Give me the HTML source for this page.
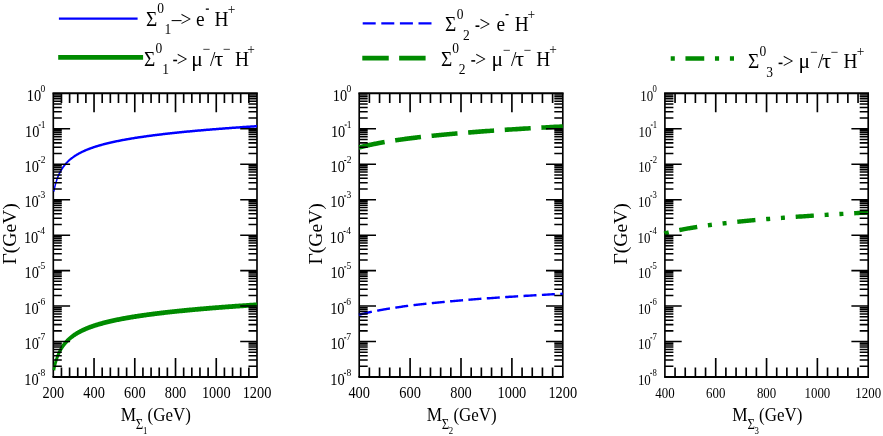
<!DOCTYPE html>
<html><head><meta charset="utf-8"><title>plot</title>
<style>html,body{margin:0;padding:0;background:#fff}svg{display:block;will-change:transform}</style></head>
<body>
<svg width="883" height="436" viewBox="0 0 883 436" font-family="Liberation Serif, serif" fill="#000">
<rect width="883" height="436" fill="#fff"/>
<path d="M52.5,93.3H257.8M52.5,377.0H257.8" stroke="#000" stroke-width="1.9" fill="none"/>
<path d="M53.3,93.3V377.0M257.0,93.3V377.0" stroke="#000" stroke-width="1.65" fill="none"/>
<clipPath id="c0"><rect x="51.699999999999996" y="93.3" width="206.1" height="283.7"/></clipPath>
<g clip-path="url(#c0)"><g transform="scale(0.55,1)"><path d="M98.01,191.35 L98.01,191.35 L98.02,191.33 L98.03,191.29 L98.04,191.24 L98.06,191.18 L98.09,191.11 L98.12,191.02 L98.15,190.92 L98.19,190.80 L98.24,190.68 L98.29,190.54 L98.34,190.39 L98.40,190.22 L98.46,190.05 L98.53,189.86 L98.60,189.66 L98.68,189.46 L98.76,189.24 L98.84,189.01 L98.93,188.77 L99.03,188.53 L99.13,188.27 L99.23,188.01 L99.34,187.74 L99.46,187.46 L99.57,187.17 L99.70,186.88 L99.82,186.58 L99.96,186.27 L100.09,185.96 L100.24,185.64 L100.38,185.32 L100.53,185.00 L100.69,184.66 L100.85,184.33 L101.01,183.99 L101.18,183.65 L101.36,183.30 L101.53,182.96 L101.72,182.61 L101.91,182.25 L102.10,181.90 L102.29,181.54 L102.50,181.19 L102.70,180.83 L102.91,180.47 L103.13,180.11 L103.35,179.74 L103.58,179.38 L103.80,179.02 L104.04,178.66 L104.28,178.30 L104.52,177.94 L104.77,177.58 L105.02,177.21 L105.28,176.86 L105.54,176.50 L105.81,176.14 L106.08,175.78 L106.36,175.43 L106.64,175.07 L106.92,174.72 L107.21,174.37 L107.51,174.02 L107.81,173.67 L108.11,173.32 L108.42,172.98 L108.73,172.63 L109.05,172.29 L109.37,171.95 L109.70,171.62 L110.03,171.28 L110.37,170.95 L110.71,170.62 L111.05,170.29 L111.40,169.96 L111.76,169.64 L112.12,169.31 L112.48,168.99 L112.85,168.68 L113.22,168.36 L113.60,168.05 L113.99,167.74 L114.37,167.43 L114.76,167.12 L115.16,166.82 L115.56,166.51 L115.97,166.21 L116.38,165.92 L116.79,165.62 L117.21,165.33 L117.64,165.04 L118.07,164.75 L118.50,164.46 L118.94,164.18 L119.38,163.90 L119.83,163.62 L120.28,163.34 L120.74,163.07 L121.20,162.80 L121.67,162.53 L122.14,162.26 L122.61,161.99 L123.09,161.73 L123.58,161.47 L124.07,161.21 L124.56,160.95 L125.06,160.70 L125.56,160.44 L126.07,160.19 L126.58,159.94 L127.10,159.70 L127.62,159.45 L128.15,159.21 L128.68,158.97 L129.22,158.73 L129.76,158.49 L130.30,158.26 L130.85,158.03 L131.41,157.79 L131.97,157.57 L132.53,157.34 L133.10,157.11 L133.67,156.89 L134.25,156.67 L134.83,156.45 L135.42,156.23 L136.01,156.01 L136.60,155.80 L137.21,155.58 L137.81,155.37 L138.42,155.16 L139.04,154.96 L139.65,154.75 L140.28,154.54 L140.91,154.34 L141.54,154.14 L142.18,153.94 L142.82,153.74 L143.47,153.54 L144.12,153.35 L144.78,153.16 L145.44,152.96 L146.10,152.77 L146.77,152.58 L147.45,152.39 L148.13,152.21 L148.81,152.02 L149.50,151.84 L150.19,151.66 L150.89,151.47 L151.60,151.30 L152.30,151.12 L153.02,150.94 L153.73,150.76 L154.45,150.59 L155.18,150.42 L155.91,150.24 L156.65,150.07 L157.39,149.90 L158.13,149.73 L158.88,149.57 L159.63,149.40 L160.39,149.24 L161.15,149.07 L161.92,148.91 L162.69,148.75 L163.47,148.59 L164.25,148.43 L165.04,148.27 L165.83,148.11 L166.63,147.95 L167.43,147.80 L168.23,147.65 L169.04,147.49 L169.85,147.34 L170.67,147.19 L171.50,147.04 L172.33,146.89 L173.16,146.74 L174.00,146.59 L174.84,146.45 L175.68,146.30 L176.54,146.16 L177.39,146.01 L178.25,145.87 L179.12,145.73 L179.99,145.59 L180.86,145.45 L181.74,145.31 L182.62,145.17 L183.51,145.03 L184.41,144.89 L185.30,144.76 L186.21,144.62 L187.11,144.49 L188.02,144.35 L188.94,144.22 L189.86,144.09 L190.79,143.96 L191.72,143.83 L192.65,143.70 L193.59,143.57 L194.53,143.44 L195.48,143.31 L196.44,143.18 L197.39,143.06 L198.36,142.93 L199.32,142.80 L200.30,142.68 L201.27,142.56 L202.25,142.43 L203.24,142.31 L204.23,142.19 L205.22,142.07 L206.22,141.95 L207.23,141.83 L208.24,141.71 L209.25,141.59 L210.27,141.47 L211.29,141.35 L212.32,141.24 L213.35,141.12 L214.39,141.00 L215.43,140.89 L216.48,140.77 L217.53,140.66 L218.58,140.55 L219.64,140.43 L220.71,140.32 L221.78,140.21 L222.85,140.10 L223.93,139.99 L225.01,139.88 L226.10,139.77 L227.19,139.66 L228.29,139.55 L229.39,139.44 L230.50,139.33 L231.61,139.22 L232.72,139.12 L233.85,139.01 L234.97,138.90 L236.10,138.80 L237.23,138.69 L238.37,138.59 L239.52,138.49 L240.66,138.38 L241.82,138.28 L242.97,138.18 L244.14,138.07 L245.30,137.97 L246.47,137.87 L247.65,137.77 L248.83,137.67 L250.02,137.57 L251.21,137.47 L252.40,137.37 L253.60,137.27 L254.80,137.17 L256.01,137.07 L257.23,136.97 L258.44,136.88 L259.67,136.78 L260.89,136.68 L262.12,136.59 L263.36,136.49 L264.60,136.39 L265.85,136.30 L267.10,136.20 L268.35,136.11 L269.61,136.02 L270.88,135.92 L272.14,135.83 L273.42,135.74 L274.70,135.64 L275.98,135.55 L277.27,135.46 L278.56,135.37 L279.85,135.28 L281.16,135.18 L282.46,135.09 L283.77,135.00 L285.09,134.91 L286.41,134.82 L287.73,134.73 L289.06,134.64 L290.39,134.56 L291.73,134.47 L293.08,134.38 L294.42,134.29 L295.78,134.20 L297.13,134.12 L298.49,134.03 L299.86,133.94 L301.23,133.86 L302.61,133.77 L303.99,133.68 L305.37,133.60 L306.76,133.51 L308.16,133.43 L309.55,133.34 L310.96,133.26 L312.36,133.17 L313.78,133.09 L315.19,133.01 L316.62,132.92 L318.04,132.84 L319.47,132.76 L320.91,132.68 L322.35,132.59 L323.80,132.51 L325.25,132.43 L326.70,132.35 L328.16,132.27 L329.62,132.19 L331.09,132.10 L332.56,132.02 L334.04,131.94 L335.52,131.86 L337.01,131.78 L338.50,131.70 L340.00,131.62 L341.50,131.55 L343.00,131.47 L344.51,131.39 L346.03,131.31 L347.55,131.23 L349.07,131.15 L350.60,131.08 L352.13,131.00 L353.67,130.92 L355.21,130.84 L356.76,130.77 L358.31,130.69 L359.87,130.61 L361.43,130.54 L362.99,130.46 L364.57,130.39 L366.14,130.31 L367.72,130.23 L369.30,130.16 L370.89,130.08 L372.49,130.01 L374.08,129.93 L375.69,129.86 L377.29,129.79 L378.91,129.71 L380.52,129.64 L382.14,129.57 L383.77,129.49 L385.40,129.42 L387.04,129.35 L388.68,129.27 L390.32,129.20 L391.97,129.13 L393.62,129.06 L395.28,128.98 L396.95,128.91 L398.61,128.84 L400.29,128.77 L401.96,128.70 L403.64,128.63 L405.33,128.56 L407.02,128.48 L408.72,128.41 L410.42,128.34 L412.12,128.27 L413.83,128.20 L415.55,128.13 L417.26,128.06 L418.99,127.99 L420.72,127.93 L422.45,127.86 L424.19,127.79 L425.93,127.72 L427.67,127.65 L429.43,127.58 L431.18,127.51 L432.94,127.44 L434.71,127.38 L436.48,127.31 L438.25,127.24 L440.03,127.17 L441.81,127.11 L443.60,127.04 L445.40,126.97 L447.19,126.91 L449.00,126.84 L450.80,126.77 L452.61,126.71 L454.43,126.64 L456.25,126.57 L458.08,126.51 L459.91,126.44 L461.74,126.38 L463.58,126.31 L465.42,126.24 L467.27,126.18" stroke="#0000ff" stroke-width="2.5" fill="none"/><path d="M98.01,369.98 L98.01,369.97 L98.02,369.95 L98.03,369.92 L98.04,369.87 L98.06,369.81 L98.09,369.73 L98.12,369.64 L98.15,369.54 L98.19,369.43 L98.24,369.30 L98.29,369.16 L98.34,369.01 L98.40,368.85 L98.46,368.67 L98.53,368.49 L98.60,368.29 L98.68,368.08 L98.76,367.86 L98.84,367.64 L98.93,367.40 L99.03,367.15 L99.13,366.90 L99.23,366.63 L99.34,366.36 L99.46,366.08 L99.57,365.80 L99.70,365.50 L99.82,365.20 L99.96,364.90 L100.09,364.59 L100.24,364.27 L100.38,363.95 L100.53,363.62 L100.69,363.29 L100.85,362.95 L101.01,362.62 L101.18,362.27 L101.36,361.93 L101.53,361.58 L101.72,361.23 L101.91,360.88 L102.10,360.52 L102.29,360.17 L102.50,359.81 L102.70,359.45 L102.91,359.09 L103.13,358.73 L103.35,358.37 L103.58,358.01 L103.80,357.65 L104.04,357.28 L104.28,356.92 L104.52,356.56 L104.77,356.20 L105.02,355.84 L105.28,355.48 L105.54,355.12 L105.81,354.76 L106.08,354.41 L106.36,354.05 L106.64,353.70 L106.92,353.34 L107.21,352.99 L107.51,352.64 L107.81,352.29 L108.11,351.95 L108.42,351.60 L108.73,351.26 L109.05,350.92 L109.37,350.58 L109.70,350.24 L110.03,349.91 L110.37,349.57 L110.71,349.24 L111.05,348.91 L111.40,348.59 L111.76,348.26 L112.12,347.94 L112.48,347.62 L112.85,347.30 L113.22,346.98 L113.60,346.67 L113.99,346.36 L114.37,346.05 L114.76,345.74 L115.16,345.44 L115.56,345.14 L115.97,344.84 L116.38,344.54 L116.79,344.25 L117.21,343.95 L117.64,343.66 L118.07,343.37 L118.50,343.09 L118.94,342.80 L119.38,342.52 L119.83,342.24 L120.28,341.97 L120.74,341.69 L121.20,341.42 L121.67,341.15 L122.14,340.88 L122.61,340.62 L123.09,340.35 L123.58,340.09 L124.07,339.83 L124.56,339.58 L125.06,339.32 L125.56,339.07 L126.07,338.82 L126.58,338.57 L127.10,338.32 L127.62,338.08 L128.15,337.83 L128.68,337.59 L129.22,337.35 L129.76,337.12 L130.30,336.88 L130.85,336.65 L131.41,336.42 L131.97,336.19 L132.53,335.96 L133.10,335.74 L133.67,335.51 L134.25,335.29 L134.83,335.07 L135.42,334.85 L136.01,334.64 L136.60,334.42 L137.21,334.21 L137.81,334.00 L138.42,333.79 L139.04,333.58 L139.65,333.37 L140.28,333.17 L140.91,332.97 L141.54,332.76 L142.18,332.56 L142.82,332.37 L143.47,332.17 L144.12,331.97 L144.78,331.78 L145.44,331.59 L146.10,331.40 L146.77,331.21 L147.45,331.02 L148.13,330.83 L148.81,330.65 L149.50,330.46 L150.19,330.28 L150.89,330.10 L151.60,329.92 L152.30,329.74 L153.02,329.56 L153.73,329.39 L154.45,329.21 L155.18,329.04 L155.91,328.87 L156.65,328.70 L157.39,328.53 L158.13,328.36 L158.88,328.19 L159.63,328.02 L160.39,327.86 L161.15,327.70 L161.92,327.53 L162.69,327.37 L163.47,327.21 L164.25,327.05 L165.04,326.89 L165.83,326.74 L166.63,326.58 L167.43,326.42 L168.23,326.27 L169.04,326.12 L169.85,325.96 L170.67,325.81 L171.50,325.66 L172.33,325.51 L173.16,325.37 L174.00,325.22 L174.84,325.07 L175.68,324.93 L176.54,324.78 L177.39,324.64 L178.25,324.49 L179.12,324.35 L179.99,324.21 L180.86,324.07 L181.74,323.93 L182.62,323.79 L183.51,323.65 L184.41,323.52 L185.30,323.38 L186.21,323.25 L187.11,323.11 L188.02,322.98 L188.94,322.84 L189.86,322.71 L190.79,322.58 L191.72,322.45 L192.65,322.32 L193.59,322.19 L194.53,322.06 L195.48,321.93 L196.44,321.81 L197.39,321.68 L198.36,321.55 L199.32,321.43 L200.30,321.30 L201.27,321.18 L202.25,321.06 L203.24,320.94 L204.23,320.81 L205.22,320.69 L206.22,320.57 L207.23,320.45 L208.24,320.33 L209.25,320.21 L210.27,320.10 L211.29,319.98 L212.32,319.86 L213.35,319.74 L214.39,319.63 L215.43,319.51 L216.48,319.40 L217.53,319.28 L218.58,319.17 L219.64,319.06 L220.71,318.95 L221.78,318.83 L222.85,318.72 L223.93,318.61 L225.01,318.50 L226.10,318.39 L227.19,318.28 L228.29,318.17 L229.39,318.06 L230.50,317.96 L231.61,317.85 L232.72,317.74 L233.85,317.64 L234.97,317.53 L236.10,317.42 L237.23,317.32 L238.37,317.21 L239.52,317.11 L240.66,317.01 L241.82,316.90 L242.97,316.80 L244.14,316.70 L245.30,316.60 L246.47,316.49 L247.65,316.39 L248.83,316.29 L250.02,316.19 L251.21,316.09 L252.40,315.99 L253.60,315.89 L254.80,315.79 L256.01,315.70 L257.23,315.60 L258.44,315.50 L259.67,315.40 L260.89,315.31 L262.12,315.21 L263.36,315.12 L264.60,315.02 L265.85,314.92 L267.10,314.83 L268.35,314.73 L269.61,314.64 L270.88,314.55 L272.14,314.45 L273.42,314.36 L274.70,314.27 L275.98,314.18 L277.27,314.08 L278.56,313.99 L279.85,313.90 L281.16,313.81 L282.46,313.72 L283.77,313.63 L285.09,313.54 L286.41,313.45 L287.73,313.36 L289.06,313.27 L290.39,313.18 L291.73,313.09 L293.08,313.00 L294.42,312.92 L295.78,312.83 L297.13,312.74 L298.49,312.65 L299.86,312.57 L301.23,312.48 L302.61,312.39 L303.99,312.31 L305.37,312.22 L306.76,312.14 L308.16,312.05 L309.55,311.97 L310.96,311.88 L312.36,311.80 L313.78,311.72 L315.19,311.63 L316.62,311.55 L318.04,311.47 L319.47,311.38 L320.91,311.30 L322.35,311.22 L323.80,311.14 L325.25,311.05 L326.70,310.97 L328.16,310.89 L329.62,310.81 L331.09,310.73 L332.56,310.65 L334.04,310.57 L335.52,310.49 L337.01,310.41 L338.50,310.33 L340.00,310.25 L341.50,310.17 L343.00,310.09 L344.51,310.01 L346.03,309.93 L347.55,309.86 L349.07,309.78 L350.60,309.70 L352.13,309.62 L353.67,309.54 L355.21,309.47 L356.76,309.39 L358.31,309.31 L359.87,309.24 L361.43,309.16 L362.99,309.09 L364.57,309.01 L366.14,308.93 L367.72,308.86 L369.30,308.78 L370.89,308.71 L372.49,308.63 L374.08,308.56 L375.69,308.49 L377.29,308.41 L378.91,308.34 L380.52,308.26 L382.14,308.19 L383.77,308.12 L385.40,308.04 L387.04,307.97 L388.68,307.90 L390.32,307.82 L391.97,307.75 L393.62,307.68 L395.28,307.61 L396.95,307.54 L398.61,307.46 L400.29,307.39 L401.96,307.32 L403.64,307.25 L405.33,307.18 L407.02,307.11 L408.72,307.04 L410.42,306.97 L412.12,306.90 L413.83,306.83 L415.55,306.76 L417.26,306.69 L418.99,306.62 L420.72,306.55 L422.45,306.48 L424.19,306.41 L425.93,306.34 L427.67,306.27 L429.43,306.21 L431.18,306.14 L432.94,306.07 L434.71,306.00 L436.48,305.93 L438.25,305.87 L440.03,305.80 L441.81,305.73 L443.60,305.66 L445.40,305.60 L447.19,305.53 L449.00,305.46 L450.80,305.40 L452.61,305.33 L454.43,305.26 L456.25,305.20 L458.08,305.13 L459.91,305.07 L461.74,305.00 L463.58,304.93 L465.42,304.87 L467.27,304.80" stroke="#008b00" stroke-width="4.8" fill="none"/></g></g>
<path d="M53.3,118.09h8.5M257.0,118.09h-8.5M53.3,111.84h8.5M257.0,111.84h-8.5M53.3,107.41h8.5M257.0,107.41h-8.5M53.3,103.98h8.5M257.0,103.98h-8.5M53.3,101.17h8.5M257.0,101.17h-8.5M53.3,98.79h8.5M257.0,98.79h-8.5M53.3,96.74h8.5M257.0,96.74h-8.5M53.3,94.92h8.5M257.0,94.92h-8.5M53.3,128.76h16.8M257.0,128.76h-16.8M53.3,153.55h8.5M257.0,153.55h-8.5M53.3,147.31h8.5M257.0,147.31h-8.5M53.3,142.87h8.5M257.0,142.87h-8.5M53.3,139.44h8.5M257.0,139.44h-8.5M53.3,136.63h8.5M257.0,136.63h-8.5M53.3,134.26h8.5M257.0,134.26h-8.5M53.3,132.20h8.5M257.0,132.20h-8.5M53.3,130.39h8.5M257.0,130.39h-8.5M53.3,164.22h16.8M257.0,164.22h-16.8M53.3,189.01h8.5M257.0,189.01h-8.5M53.3,182.77h8.5M257.0,182.77h-8.5M53.3,178.34h8.5M257.0,178.34h-8.5M53.3,174.90h8.5M257.0,174.90h-8.5M53.3,172.09h8.5M257.0,172.09h-8.5M53.3,169.72h8.5M257.0,169.72h-8.5M53.3,167.66h8.5M257.0,167.66h-8.5M53.3,165.85h8.5M257.0,165.85h-8.5M53.3,199.69h16.8M257.0,199.69h-16.8M53.3,224.47h8.5M257.0,224.47h-8.5M53.3,218.23h8.5M257.0,218.23h-8.5M53.3,213.80h8.5M257.0,213.80h-8.5M53.3,210.36h8.5M257.0,210.36h-8.5M53.3,207.55h8.5M257.0,207.55h-8.5M53.3,205.18h8.5M257.0,205.18h-8.5M53.3,203.12h8.5M257.0,203.12h-8.5M53.3,201.31h8.5M257.0,201.31h-8.5M53.3,235.15h16.8M257.0,235.15h-16.8M53.3,259.94h8.5M257.0,259.94h-8.5M53.3,253.69h8.5M257.0,253.69h-8.5M53.3,249.26h8.5M257.0,249.26h-8.5M53.3,245.83h8.5M257.0,245.83h-8.5M53.3,243.02h8.5M257.0,243.02h-8.5M53.3,240.64h8.5M257.0,240.64h-8.5M53.3,238.59h8.5M257.0,238.59h-8.5M53.3,236.77h8.5M257.0,236.77h-8.5M53.3,270.61h16.8M257.0,270.61h-16.8M53.3,295.40h8.5M257.0,295.40h-8.5M53.3,289.16h8.5M257.0,289.16h-8.5M53.3,284.72h8.5M257.0,284.72h-8.5M53.3,281.29h8.5M257.0,281.29h-8.5M53.3,278.48h8.5M257.0,278.48h-8.5M53.3,276.11h8.5M257.0,276.11h-8.5M53.3,274.05h8.5M257.0,274.05h-8.5M53.3,272.24h8.5M257.0,272.24h-8.5M53.3,306.07h16.8M257.0,306.07h-16.8M53.3,330.86h8.5M257.0,330.86h-8.5M53.3,324.62h8.5M257.0,324.62h-8.5M53.3,320.19h8.5M257.0,320.19h-8.5M53.3,316.75h8.5M257.0,316.75h-8.5M53.3,313.94h8.5M257.0,313.94h-8.5M53.3,311.57h8.5M257.0,311.57h-8.5M53.3,309.51h8.5M257.0,309.51h-8.5M53.3,307.70h8.5M257.0,307.70h-8.5M53.3,341.54h16.8M257.0,341.54h-16.8M53.3,366.32h8.5M257.0,366.32h-8.5M53.3,360.08h8.5M257.0,360.08h-8.5M53.3,355.65h8.5M257.0,355.65h-8.5M53.3,352.21h8.5M257.0,352.21h-8.5M53.3,349.40h8.5M257.0,349.40h-8.5M53.3,347.03h8.5M257.0,347.03h-8.5M53.3,344.97h8.5M257.0,344.97h-8.5M53.3,343.16h8.5M257.0,343.16h-8.5" stroke="#000" stroke-width="1.55" fill="none"/>
<path d="M61.45,377.0v-9.6M61.45,93.3v9.6M69.60,377.0v-9.6M69.60,93.3v9.6M77.74,377.0v-9.6M77.74,93.3v9.6M85.89,377.0v-9.6M85.89,93.3v9.6M94.04,377.0v-18.9M94.04,93.3v18.9M102.19,377.0v-9.6M102.19,93.3v9.6M110.34,377.0v-9.6M110.34,93.3v9.6M118.48,377.0v-9.6M118.48,93.3v9.6M126.63,377.0v-9.6M126.63,93.3v9.6M134.78,377.0v-18.9M134.78,93.3v18.9M142.93,377.0v-9.6M142.93,93.3v9.6M151.08,377.0v-9.6M151.08,93.3v9.6M159.22,377.0v-9.6M159.22,93.3v9.6M167.37,377.0v-9.6M167.37,93.3v9.6M175.52,377.0v-18.9M175.52,93.3v18.9M183.67,377.0v-9.6M183.67,93.3v9.6M191.82,377.0v-9.6M191.82,93.3v9.6M199.96,377.0v-9.6M199.96,93.3v9.6M208.11,377.0v-9.6M208.11,93.3v9.6M216.26,377.0v-18.9M216.26,93.3v18.9M224.41,377.0v-9.6M224.41,93.3v9.6M232.56,377.0v-9.6M232.56,93.3v9.6M240.70,377.0v-9.6M240.70,93.3v9.6M248.85,377.0v-9.6M248.85,93.3v9.6" stroke="#000" stroke-width="1.65" fill="none"/>
<text transform="translate(40.56,92.10) scale(0.91,1)" font-size="10.5">0</text>
<text transform="translate(26.82,101.10) scale(0.91,1)" font-size="15.8">10</text>
<text transform="translate(40.80,127.56) scale(0.91,1)" font-size="10.5">1</text>
<rect x="38.71" y="124.56" width="2.1" height="1.0"/>
<text transform="translate(25.03,136.56) scale(0.91,1)" font-size="15.8">10</text>
<text transform="translate(40.75,163.03) scale(0.91,1)" font-size="10.5">2</text>
<rect x="38.23" y="160.03" width="2.1" height="1.0"/>
<text transform="translate(24.56,172.03) scale(0.91,1)" font-size="15.8">10</text>
<text transform="translate(40.56,198.49) scale(0.91,1)" font-size="10.5">3</text>
<rect x="38.09" y="195.49" width="2.1" height="1.0"/>
<text transform="translate(24.41,207.49) scale(0.91,1)" font-size="15.8">10</text>
<text transform="translate(40.37,233.95) scale(0.91,1)" font-size="10.5">4</text>
<rect x="37.61" y="230.95" width="2.1" height="1.0"/>
<text transform="translate(23.93,242.95) scale(0.91,1)" font-size="15.8">10</text>
<text transform="translate(40.56,269.41) scale(0.91,1)" font-size="10.5">5</text>
<rect x="38.18" y="266.41" width="2.1" height="1.0"/>
<text transform="translate(24.51,278.41) scale(0.91,1)" font-size="15.8">10</text>
<text transform="translate(40.46,304.88) scale(0.91,1)" font-size="10.5">6</text>
<rect x="37.94" y="301.88" width="2.1" height="1.0"/>
<text transform="translate(24.27,313.88) scale(0.91,1)" font-size="15.8">10</text>
<text transform="translate(40.46,340.34) scale(0.91,1)" font-size="10.5">7</text>
<rect x="38.18" y="337.34" width="2.1" height="1.0"/>
<text transform="translate(24.51,349.34) scale(0.91,1)" font-size="15.8">10</text>
<text transform="translate(40.56,375.80) scale(0.91,1)" font-size="10.5">8</text>
<rect x="37.99" y="372.80" width="2.1" height="1.0"/>
<text transform="translate(24.32,384.80) scale(0.91,1)" font-size="15.8">10</text>
<text transform="translate(53.30,397.5) scale(0.91,1)" text-anchor="middle" font-size="15.8">200</text>
<text transform="translate(94.04,397.5) scale(0.91,1)" text-anchor="middle" font-size="15.8">400</text>
<text transform="translate(134.78,397.5) scale(0.91,1)" text-anchor="middle" font-size="15.8">600</text>
<text transform="translate(175.52,397.5) scale(0.91,1)" text-anchor="middle" font-size="15.8">800</text>
<text transform="translate(216.26,397.5) scale(0.91,1)" text-anchor="middle" font-size="15.8">1000</text>
<text transform="translate(257.00,397.5) scale(0.91,1)" text-anchor="middle" font-size="15.8">1200</text>
<text transform="translate(120.77,421.20) scale(0.88,1)" font-size="19.6">M</text>
<text transform="translate(135.85,428.50) scale(0.88,1)" font-size="14.5">Σ</text>
<text transform="translate(143.05,433.60) scale(0.88,1)" font-size="10">1</text>
<text transform="translate(147.52,421.20) scale(0.865,1)" font-size="19.6">(GeV)</text>
<text transform="translate(15.60,264.6) rotate(-90) scale(1,0.93)" font-size="19.6">Γ(GeV)</text>
<path d="M358.4,93.3H563.5999999999999M358.4,377.0H563.5999999999999" stroke="#000" stroke-width="1.9" fill="none"/>
<path d="M359.2,93.3V377.0M562.8,93.3V377.0" stroke="#000" stroke-width="1.65" fill="none"/>
<clipPath id="c1"><rect x="357.59999999999997" y="93.3" width="205.99999999999997" height="283.7"/></clipPath>
<g clip-path="url(#c1)"><path d="M359.20,147.45 L359.21,147.45 L359.22,147.45 L359.25,147.44 L359.28,147.43 L359.33,147.42 L359.39,147.40 L359.45,147.38 L359.53,147.36 L359.62,147.34 L359.71,147.32 L359.82,147.29 L359.94,147.26 L360.07,147.22 L360.21,147.19 L360.36,147.15 L360.52,147.11 L360.69,147.06 L360.87,147.02 L361.06,146.97 L361.26,146.92 L361.47,146.86 L361.69,146.81 L361.92,146.75 L362.16,146.69 L362.41,146.62 L362.68,146.56 L362.95,146.49 L363.23,146.42 L363.52,146.35 L363.83,146.28 L364.14,146.20 L364.46,146.12 L364.80,146.04 L365.14,145.96 L365.50,145.88 L365.86,145.79 L366.24,145.71 L366.62,145.62 L367.02,145.53 L367.43,145.44 L367.84,145.34 L368.27,145.25 L368.71,145.15 L369.15,145.05 L369.61,144.95 L370.08,144.85 L370.56,144.75 L371.05,144.64 L371.54,144.54 L372.05,144.43 L372.57,144.32 L373.10,144.22 L373.64,144.11 L374.19,143.99 L374.75,143.88 L375.32,143.77 L375.90,143.65 L376.50,143.54 L377.10,143.42 L377.71,143.31 L378.33,143.19 L378.96,143.07 L379.61,142.95 L380.26,142.83 L380.92,142.71 L381.60,142.59 L382.28,142.47 L382.97,142.34 L383.68,142.22 L384.39,142.10 L385.12,141.97 L385.85,141.85 L386.60,141.72 L387.35,141.60 L388.12,141.47 L388.90,141.34 L389.68,141.22 L390.48,141.09 L391.29,140.96 L392.10,140.84 L392.93,140.71 L393.77,140.58 L394.62,140.45 L395.48,140.32 L396.35,140.19 L397.22,140.06 L398.11,139.93 L399.01,139.80 L399.92,139.68 L400.84,139.55 L401.77,139.42 L402.72,139.29 L403.67,139.16 L404.63,139.03 L405.60,138.90 L406.58,138.77 L407.57,138.64 L408.58,138.51 L409.59,138.38 L410.61,138.25 L411.65,138.12 L412.69,137.99 L413.74,137.86 L414.81,137.73 L415.88,137.60 L416.97,137.47 L418.06,137.34 L419.17,137.21 L420.28,137.08 L421.41,136.95 L422.55,136.82 L423.69,136.70 L424.85,136.57 L426.02,136.44 L427.19,136.31 L428.38,136.18 L429.58,136.06 L430.79,135.93 L432.01,135.80 L433.23,135.67 L434.47,135.55 L435.72,135.42 L436.98,135.29 L438.25,135.17 L439.53,135.04 L440.82,134.92 L442.12,134.79 L443.43,134.67 L444.76,134.54 L446.09,134.42 L447.43,134.29 L448.78,134.17 L450.14,134.04 L451.52,133.92 L452.90,133.80 L454.29,133.67 L455.70,133.55 L457.11,133.43 L458.53,133.31 L459.97,133.18 L461.41,133.06 L462.87,132.94 L464.33,132.82 L465.81,132.70 L467.30,132.58 L468.79,132.46 L470.30,132.34 L471.81,132.22 L473.34,132.10 L474.88,131.98 L476.43,131.86 L477.98,131.74 L479.55,131.62 L481.13,131.51 L482.72,131.39 L484.32,131.27 L485.93,131.15 L487.55,131.04 L489.18,130.92 L490.82,130.80 L492.47,130.69 L494.13,130.57 L495.80,130.46 L497.48,130.34 L499.17,130.23 L500.87,130.11 L502.59,130.00 L504.31,129.88 L506.04,129.77 L507.78,129.66 L509.54,129.54 L511.30,129.43 L513.07,129.32 L514.86,129.21 L516.65,129.10 L518.46,128.98 L520.27,128.87 L522.10,128.76 L523.93,128.65 L525.78,128.54 L527.63,128.43 L529.50,128.32 L531.38,128.21 L533.26,128.10 L535.16,127.99 L537.07,127.88 L538.99,127.78 L540.91,127.67 L542.85,127.56 L544.80,127.45 L546.76,127.35 L548.73,127.24 L550.71,127.13 L552.70,127.03 L554.70,126.92 L556.71,126.81 L558.73,126.71 L560.76,126.60 L562.80,126.50" stroke="#008b00" stroke-width="4.6" fill="none" stroke-dasharray="26 10.7"/><path d="M359.20,314.73 L359.21,314.73 L359.22,314.72 L359.25,314.72 L359.28,314.71 L359.33,314.69 L359.39,314.68 L359.45,314.66 L359.53,314.64 L359.62,314.62 L359.71,314.59 L359.82,314.56 L359.94,314.53 L360.07,314.50 L360.21,314.46 L360.36,314.42 L360.52,314.38 L360.69,314.34 L360.87,314.29 L361.06,314.24 L361.26,314.19 L361.47,314.14 L361.69,314.08 L361.92,314.02 L362.16,313.96 L362.41,313.90 L362.68,313.84 L362.95,313.77 L363.23,313.70 L363.52,313.63 L363.83,313.55 L364.14,313.48 L364.46,313.40 L364.80,313.32 L365.14,313.24 L365.50,313.16 L365.86,313.07 L366.24,312.98 L366.62,312.90 L367.02,312.80 L367.43,312.71 L367.84,312.62 L368.27,312.52 L368.71,312.43 L369.15,312.33 L369.61,312.23 L370.08,312.13 L370.56,312.02 L371.05,311.92 L371.54,311.82 L372.05,311.71 L372.57,311.60 L373.10,311.49 L373.64,311.38 L374.19,311.27 L374.75,311.16 L375.32,311.05 L375.90,310.93 L376.50,310.82 L377.10,310.70 L377.71,310.58 L378.33,310.47 L378.96,310.35 L379.61,310.23 L380.26,310.11 L380.92,309.99 L381.60,309.87 L382.28,309.74 L382.97,309.62 L383.68,309.50 L384.39,309.37 L385.12,309.25 L385.85,309.12 L386.60,309.00 L387.35,308.87 L388.12,308.75 L388.90,308.62 L389.68,308.49 L390.48,308.37 L391.29,308.24 L392.10,308.11 L392.93,307.98 L393.77,307.86 L394.62,307.73 L395.48,307.60 L396.35,307.47 L397.22,307.34 L398.11,307.21 L399.01,307.08 L399.92,306.95 L400.84,306.82 L401.77,306.69 L402.72,306.56 L403.67,306.43 L404.63,306.30 L405.60,306.17 L406.58,306.04 L407.57,305.91 L408.58,305.78 L409.59,305.65 L410.61,305.52 L411.65,305.39 L412.69,305.26 L413.74,305.13 L414.81,305.00 L415.88,304.88 L416.97,304.75 L418.06,304.62 L419.17,304.49 L420.28,304.36 L421.41,304.23 L422.55,304.10 L423.69,303.97 L424.85,303.84 L426.02,303.72 L427.19,303.59 L428.38,303.46 L429.58,303.33 L430.79,303.21 L432.01,303.08 L433.23,302.95 L434.47,302.82 L435.72,302.70 L436.98,302.57 L438.25,302.45 L439.53,302.32 L440.82,302.19 L442.12,302.07 L443.43,301.94 L444.76,301.82 L446.09,301.69 L447.43,301.57 L448.78,301.44 L450.14,301.32 L451.52,301.20 L452.90,301.07 L454.29,300.95 L455.70,300.83 L457.11,300.71 L458.53,300.58 L459.97,300.46 L461.41,300.34 L462.87,300.22 L464.33,300.10 L465.81,299.98 L467.30,299.85 L468.79,299.73 L470.30,299.61 L471.81,299.49 L473.34,299.37 L474.88,299.26 L476.43,299.14 L477.98,299.02 L479.55,298.90 L481.13,298.78 L482.72,298.66 L484.32,298.55 L485.93,298.43 L487.55,298.31 L489.18,298.20 L490.82,298.08 L492.47,297.96 L494.13,297.85 L495.80,297.73 L497.48,297.62 L499.17,297.50 L500.87,297.39 L502.59,297.27 L504.31,297.16 L506.04,297.05 L507.78,296.93 L509.54,296.82 L511.30,296.71 L513.07,296.60 L514.86,296.48 L516.65,296.37 L518.46,296.26 L520.27,296.15 L522.10,296.04 L523.93,295.93 L525.78,295.82 L527.63,295.71 L529.50,295.60 L531.38,295.49 L533.26,295.38 L535.16,295.27 L537.07,295.16 L538.99,295.05 L540.91,294.94 L542.85,294.84 L544.80,294.73 L546.76,294.62 L548.73,294.52 L550.71,294.41 L552.70,294.30 L554.70,294.20 L556.71,294.09 L558.73,293.99 L560.76,293.88 L562.80,293.78" stroke="#0000ff" stroke-width="2.4" fill="none" stroke-dasharray="13 5.4"/></g>
<path d="M359.2,118.09h8.5M562.8,118.09h-8.5M359.2,111.84h8.5M562.8,111.84h-8.5M359.2,107.41h8.5M562.8,107.41h-8.5M359.2,103.98h8.5M562.8,103.98h-8.5M359.2,101.17h8.5M562.8,101.17h-8.5M359.2,98.79h8.5M562.8,98.79h-8.5M359.2,96.74h8.5M562.8,96.74h-8.5M359.2,94.92h8.5M562.8,94.92h-8.5M359.2,128.76h16.8M562.8,128.76h-16.8M359.2,153.55h8.5M562.8,153.55h-8.5M359.2,147.31h8.5M562.8,147.31h-8.5M359.2,142.87h8.5M562.8,142.87h-8.5M359.2,139.44h8.5M562.8,139.44h-8.5M359.2,136.63h8.5M562.8,136.63h-8.5M359.2,134.26h8.5M562.8,134.26h-8.5M359.2,132.20h8.5M562.8,132.20h-8.5M359.2,130.39h8.5M562.8,130.39h-8.5M359.2,164.22h16.8M562.8,164.22h-16.8M359.2,189.01h8.5M562.8,189.01h-8.5M359.2,182.77h8.5M562.8,182.77h-8.5M359.2,178.34h8.5M562.8,178.34h-8.5M359.2,174.90h8.5M562.8,174.90h-8.5M359.2,172.09h8.5M562.8,172.09h-8.5M359.2,169.72h8.5M562.8,169.72h-8.5M359.2,167.66h8.5M562.8,167.66h-8.5M359.2,165.85h8.5M562.8,165.85h-8.5M359.2,199.69h16.8M562.8,199.69h-16.8M359.2,224.47h8.5M562.8,224.47h-8.5M359.2,218.23h8.5M562.8,218.23h-8.5M359.2,213.80h8.5M562.8,213.80h-8.5M359.2,210.36h8.5M562.8,210.36h-8.5M359.2,207.55h8.5M562.8,207.55h-8.5M359.2,205.18h8.5M562.8,205.18h-8.5M359.2,203.12h8.5M562.8,203.12h-8.5M359.2,201.31h8.5M562.8,201.31h-8.5M359.2,235.15h16.8M562.8,235.15h-16.8M359.2,259.94h8.5M562.8,259.94h-8.5M359.2,253.69h8.5M562.8,253.69h-8.5M359.2,249.26h8.5M562.8,249.26h-8.5M359.2,245.83h8.5M562.8,245.83h-8.5M359.2,243.02h8.5M562.8,243.02h-8.5M359.2,240.64h8.5M562.8,240.64h-8.5M359.2,238.59h8.5M562.8,238.59h-8.5M359.2,236.77h8.5M562.8,236.77h-8.5M359.2,270.61h16.8M562.8,270.61h-16.8M359.2,295.40h8.5M562.8,295.40h-8.5M359.2,289.16h8.5M562.8,289.16h-8.5M359.2,284.72h8.5M562.8,284.72h-8.5M359.2,281.29h8.5M562.8,281.29h-8.5M359.2,278.48h8.5M562.8,278.48h-8.5M359.2,276.11h8.5M562.8,276.11h-8.5M359.2,274.05h8.5M562.8,274.05h-8.5M359.2,272.24h8.5M562.8,272.24h-8.5M359.2,306.07h16.8M562.8,306.07h-16.8M359.2,330.86h8.5M562.8,330.86h-8.5M359.2,324.62h8.5M562.8,324.62h-8.5M359.2,320.19h8.5M562.8,320.19h-8.5M359.2,316.75h8.5M562.8,316.75h-8.5M359.2,313.94h8.5M562.8,313.94h-8.5M359.2,311.57h8.5M562.8,311.57h-8.5M359.2,309.51h8.5M562.8,309.51h-8.5M359.2,307.70h8.5M562.8,307.70h-8.5M359.2,341.54h16.8M562.8,341.54h-16.8M359.2,366.32h8.5M562.8,366.32h-8.5M359.2,360.08h8.5M562.8,360.08h-8.5M359.2,355.65h8.5M562.8,355.65h-8.5M359.2,352.21h8.5M562.8,352.21h-8.5M359.2,349.40h8.5M562.8,349.40h-8.5M359.2,347.03h8.5M562.8,347.03h-8.5M359.2,344.97h8.5M562.8,344.97h-8.5M359.2,343.16h8.5M562.8,343.16h-8.5" stroke="#000" stroke-width="1.55" fill="none"/>
<path d="M369.38,377.0v-9.6M369.38,93.3v9.6M379.56,377.0v-9.6M379.56,93.3v9.6M389.74,377.0v-9.6M389.74,93.3v9.6M399.92,377.0v-9.6M399.92,93.3v9.6M410.10,377.0v-18.9M410.10,93.3v18.9M420.28,377.0v-9.6M420.28,93.3v9.6M430.46,377.0v-9.6M430.46,93.3v9.6M440.64,377.0v-9.6M440.64,93.3v9.6M450.82,377.0v-9.6M450.82,93.3v9.6M461.00,377.0v-18.9M461.00,93.3v18.9M471.18,377.0v-9.6M471.18,93.3v9.6M481.36,377.0v-9.6M481.36,93.3v9.6M491.54,377.0v-9.6M491.54,93.3v9.6M501.72,377.0v-9.6M501.72,93.3v9.6M511.90,377.0v-18.9M511.90,93.3v18.9M522.08,377.0v-9.6M522.08,93.3v9.6M532.26,377.0v-9.6M532.26,93.3v9.6M542.44,377.0v-9.6M542.44,93.3v9.6M552.62,377.0v-9.6M552.62,93.3v9.6" stroke="#000" stroke-width="1.65" fill="none"/>
<text transform="translate(346.46,92.10) scale(0.91,1)" font-size="10.5">0</text>
<text transform="translate(332.72,101.10) scale(0.91,1)" font-size="15.8">10</text>
<text transform="translate(346.70,127.56) scale(0.91,1)" font-size="10.5">1</text>
<rect x="344.61" y="124.56" width="2.1" height="1.0"/>
<text transform="translate(330.93,136.56) scale(0.91,1)" font-size="15.8">10</text>
<text transform="translate(346.65,163.03) scale(0.91,1)" font-size="10.5">2</text>
<rect x="344.13" y="160.03" width="2.1" height="1.0"/>
<text transform="translate(330.46,172.03) scale(0.91,1)" font-size="15.8">10</text>
<text transform="translate(346.46,198.49) scale(0.91,1)" font-size="10.5">3</text>
<rect x="343.99" y="195.49" width="2.1" height="1.0"/>
<text transform="translate(330.31,207.49) scale(0.91,1)" font-size="15.8">10</text>
<text transform="translate(346.27,233.95) scale(0.91,1)" font-size="10.5">4</text>
<rect x="343.51" y="230.95" width="2.1" height="1.0"/>
<text transform="translate(329.83,242.95) scale(0.91,1)" font-size="15.8">10</text>
<text transform="translate(346.46,269.41) scale(0.91,1)" font-size="10.5">5</text>
<rect x="344.08" y="266.41" width="2.1" height="1.0"/>
<text transform="translate(330.41,278.41) scale(0.91,1)" font-size="15.8">10</text>
<text transform="translate(346.36,304.88) scale(0.91,1)" font-size="10.5">6</text>
<rect x="343.84" y="301.88" width="2.1" height="1.0"/>
<text transform="translate(330.17,313.88) scale(0.91,1)" font-size="15.8">10</text>
<text transform="translate(346.36,340.34) scale(0.91,1)" font-size="10.5">7</text>
<rect x="344.08" y="337.34" width="2.1" height="1.0"/>
<text transform="translate(330.41,349.34) scale(0.91,1)" font-size="15.8">10</text>
<text transform="translate(346.46,375.80) scale(0.91,1)" font-size="10.5">8</text>
<rect x="343.89" y="372.80" width="2.1" height="1.0"/>
<text transform="translate(330.22,384.80) scale(0.91,1)" font-size="15.8">10</text>
<text transform="translate(359.20,397.5) scale(0.91,1)" text-anchor="middle" font-size="15.8">400</text>
<text transform="translate(410.10,397.5) scale(0.91,1)" text-anchor="middle" font-size="15.8">600</text>
<text transform="translate(461.00,397.5) scale(0.91,1)" text-anchor="middle" font-size="15.8">800</text>
<text transform="translate(511.90,397.5) scale(0.91,1)" text-anchor="middle" font-size="15.8">1000</text>
<text transform="translate(562.80,397.5) scale(0.91,1)" text-anchor="middle" font-size="15.8">1200</text>
<text transform="translate(426.67,421.20) scale(0.88,1)" font-size="19.6">M</text>
<text transform="translate(441.75,428.50) scale(0.88,1)" font-size="14.5">Σ</text>
<text transform="translate(448.85,433.60) scale(0.88,1)" font-size="10">2</text>
<text transform="translate(453.42,421.20) scale(0.865,1)" font-size="19.6">(GeV)</text>
<text transform="translate(321.50,264.6) rotate(-90) scale(1,0.93)" font-size="19.6">Γ(GeV)</text>
<path d="M664.1,93.3H869.0M664.1,377.0H869.0" stroke="#000" stroke-width="1.9" fill="none"/>
<path d="M664.9,93.3V377.0M868.2,93.3V377.0" stroke="#000" stroke-width="1.65" fill="none"/>
<clipPath id="c2"><rect x="663.3" y="93.3" width="205.70000000000007" height="283.7"/></clipPath>
<g clip-path="url(#c2)"><path d="M664.90,233.45 L664.91,233.45 L664.92,233.44 L664.95,233.44 L664.98,233.43 L665.03,233.41 L665.08,233.40 L665.15,233.38 L665.23,233.36 L665.32,233.34 L665.41,233.31 L665.52,233.28 L665.64,233.25 L665.77,233.22 L665.91,233.18 L666.06,233.14 L666.21,233.10 L666.38,233.06 L666.56,233.01 L666.75,232.96 L666.95,232.91 L667.16,232.86 L667.38,232.80 L667.62,232.74 L667.86,232.68 L668.11,232.62 L668.37,232.56 L668.64,232.49 L668.92,232.42 L669.22,232.35 L669.52,232.27 L669.83,232.20 L670.16,232.12 L670.49,232.04 L670.83,231.96 L671.19,231.88 L671.55,231.79 L671.93,231.70 L672.31,231.62 L672.71,231.52 L673.11,231.43 L673.53,231.34 L673.96,231.24 L674.39,231.15 L674.84,231.05 L675.30,230.95 L675.76,230.85 L676.24,230.74 L676.73,230.64 L677.23,230.53 L677.73,230.43 L678.25,230.32 L678.78,230.21 L679.32,230.10 L679.87,229.99 L680.43,229.88 L681.00,229.77 L681.58,229.65 L682.17,229.54 L682.77,229.42 L683.38,229.30 L684.00,229.19 L684.63,229.07 L685.28,228.95 L685.93,228.83 L686.59,228.71 L687.26,228.59 L687.95,228.46 L688.64,228.34 L689.34,228.22 L690.06,228.09 L690.78,227.97 L691.51,227.84 L692.26,227.72 L693.01,227.59 L693.78,227.47 L694.55,227.34 L695.34,227.21 L696.13,227.09 L696.94,226.96 L697.76,226.83 L698.58,226.70 L699.42,226.58 L700.27,226.45 L701.12,226.32 L701.99,226.19 L702.87,226.06 L703.76,225.93 L704.66,225.80 L705.56,225.67 L706.48,225.54 L707.41,225.41 L708.35,225.28 L709.30,225.15 L710.26,225.02 L711.23,224.89 L712.21,224.76 L713.20,224.63 L714.20,224.50 L715.22,224.37 L716.24,224.24 L717.27,224.11 L718.31,223.98 L719.36,223.85 L720.43,223.72 L721.50,223.60 L722.58,223.47 L723.68,223.34 L724.78,223.21 L725.89,223.08 L727.02,222.95 L728.15,222.82 L729.30,222.69 L730.45,222.56 L731.62,222.44 L732.79,222.31 L733.98,222.18 L735.18,222.05 L736.38,221.93 L737.60,221.80 L738.83,221.67 L740.06,221.54 L741.31,221.42 L742.57,221.29 L743.84,221.17 L745.11,221.04 L746.40,220.91 L747.70,220.79 L749.01,220.66 L750.33,220.54 L751.66,220.41 L753.00,220.29 L754.35,220.16 L755.71,220.04 L757.08,219.92 L758.46,219.79 L759.85,219.67 L761.25,219.55 L762.67,219.42 L764.09,219.30 L765.52,219.18 L766.96,219.06 L768.42,218.94 L769.88,218.82 L771.35,218.70 L772.84,218.57 L774.33,218.45 L775.83,218.33 L777.35,218.21 L778.87,218.09 L780.41,217.98 L781.95,217.86 L783.51,217.74 L785.07,217.62 L786.65,217.50 L788.24,217.38 L789.83,217.27 L791.44,217.15 L793.06,217.03 L794.69,216.92 L796.32,216.80 L797.97,216.68 L799.63,216.57 L801.30,216.45 L802.98,216.34 L804.67,216.22 L806.36,216.11 L808.07,215.99 L809.79,215.88 L811.52,215.77 L813.26,215.65 L815.01,215.54 L816.78,215.43 L818.55,215.32 L820.33,215.20 L822.12,215.09 L823.92,214.98 L825.73,214.87 L827.56,214.76 L829.39,214.65 L831.23,214.54 L833.09,214.43 L834.95,214.32 L836.82,214.21 L838.71,214.10 L840.60,213.99 L842.51,213.88 L844.42,213.77 L846.35,213.66 L848.28,213.56 L850.23,213.45 L852.18,213.34 L854.15,213.24 L856.13,213.13 L858.11,213.02 L860.11,212.92 L862.12,212.81 L864.13,212.71 L866.16,212.60 L868.20,212.50" stroke="#008b00" stroke-width="4.4" fill="none" stroke-dasharray="4.0 10.8 18.2 10.8 4.0 10.8"/></g>
<path d="M664.9,118.09h8.5M868.2,118.09h-8.5M664.9,111.84h8.5M868.2,111.84h-8.5M664.9,107.41h8.5M868.2,107.41h-8.5M664.9,103.98h8.5M868.2,103.98h-8.5M664.9,101.17h8.5M868.2,101.17h-8.5M664.9,98.79h8.5M868.2,98.79h-8.5M664.9,96.74h8.5M868.2,96.74h-8.5M664.9,94.92h8.5M868.2,94.92h-8.5M664.9,128.76h16.8M868.2,128.76h-16.8M664.9,153.55h8.5M868.2,153.55h-8.5M664.9,147.31h8.5M868.2,147.31h-8.5M664.9,142.87h8.5M868.2,142.87h-8.5M664.9,139.44h8.5M868.2,139.44h-8.5M664.9,136.63h8.5M868.2,136.63h-8.5M664.9,134.26h8.5M868.2,134.26h-8.5M664.9,132.20h8.5M868.2,132.20h-8.5M664.9,130.39h8.5M868.2,130.39h-8.5M664.9,164.22h16.8M868.2,164.22h-16.8M664.9,189.01h8.5M868.2,189.01h-8.5M664.9,182.77h8.5M868.2,182.77h-8.5M664.9,178.34h8.5M868.2,178.34h-8.5M664.9,174.90h8.5M868.2,174.90h-8.5M664.9,172.09h8.5M868.2,172.09h-8.5M664.9,169.72h8.5M868.2,169.72h-8.5M664.9,167.66h8.5M868.2,167.66h-8.5M664.9,165.85h8.5M868.2,165.85h-8.5M664.9,199.69h16.8M868.2,199.69h-16.8M664.9,224.47h8.5M868.2,224.47h-8.5M664.9,218.23h8.5M868.2,218.23h-8.5M664.9,213.80h8.5M868.2,213.80h-8.5M664.9,210.36h8.5M868.2,210.36h-8.5M664.9,207.55h8.5M868.2,207.55h-8.5M664.9,205.18h8.5M868.2,205.18h-8.5M664.9,203.12h8.5M868.2,203.12h-8.5M664.9,201.31h8.5M868.2,201.31h-8.5M664.9,235.15h16.8M868.2,235.15h-16.8M664.9,259.94h8.5M868.2,259.94h-8.5M664.9,253.69h8.5M868.2,253.69h-8.5M664.9,249.26h8.5M868.2,249.26h-8.5M664.9,245.83h8.5M868.2,245.83h-8.5M664.9,243.02h8.5M868.2,243.02h-8.5M664.9,240.64h8.5M868.2,240.64h-8.5M664.9,238.59h8.5M868.2,238.59h-8.5M664.9,236.77h8.5M868.2,236.77h-8.5M664.9,270.61h16.8M868.2,270.61h-16.8M664.9,295.40h8.5M868.2,295.40h-8.5M664.9,289.16h8.5M868.2,289.16h-8.5M664.9,284.72h8.5M868.2,284.72h-8.5M664.9,281.29h8.5M868.2,281.29h-8.5M664.9,278.48h8.5M868.2,278.48h-8.5M664.9,276.11h8.5M868.2,276.11h-8.5M664.9,274.05h8.5M868.2,274.05h-8.5M664.9,272.24h8.5M868.2,272.24h-8.5M664.9,306.07h16.8M868.2,306.07h-16.8M664.9,330.86h8.5M868.2,330.86h-8.5M664.9,324.62h8.5M868.2,324.62h-8.5M664.9,320.19h8.5M868.2,320.19h-8.5M664.9,316.75h8.5M868.2,316.75h-8.5M664.9,313.94h8.5M868.2,313.94h-8.5M664.9,311.57h8.5M868.2,311.57h-8.5M664.9,309.51h8.5M868.2,309.51h-8.5M664.9,307.70h8.5M868.2,307.70h-8.5M664.9,341.54h16.8M868.2,341.54h-16.8M664.9,366.32h8.5M868.2,366.32h-8.5M664.9,360.08h8.5M868.2,360.08h-8.5M664.9,355.65h8.5M868.2,355.65h-8.5M664.9,352.21h8.5M868.2,352.21h-8.5M664.9,349.40h8.5M868.2,349.40h-8.5M664.9,347.03h8.5M868.2,347.03h-8.5M664.9,344.97h8.5M868.2,344.97h-8.5M664.9,343.16h8.5M868.2,343.16h-8.5" stroke="#000" stroke-width="1.55" fill="none"/>
<path d="M675.06,377.0v-9.6M675.06,93.3v9.6M685.23,377.0v-9.6M685.23,93.3v9.6M695.39,377.0v-9.6M695.39,93.3v9.6M705.56,377.0v-9.6M705.56,93.3v9.6M715.73,377.0v-18.9M715.73,93.3v18.9M725.89,377.0v-9.6M725.89,93.3v9.6M736.06,377.0v-9.6M736.06,93.3v9.6M746.22,377.0v-9.6M746.22,93.3v9.6M756.38,377.0v-9.6M756.38,93.3v9.6M766.55,377.0v-18.9M766.55,93.3v18.9M776.72,377.0v-9.6M776.72,93.3v9.6M786.88,377.0v-9.6M786.88,93.3v9.6M797.05,377.0v-9.6M797.05,93.3v9.6M807.21,377.0v-9.6M807.21,93.3v9.6M817.38,377.0v-18.9M817.38,93.3v18.9M827.54,377.0v-9.6M827.54,93.3v9.6M837.71,377.0v-9.6M837.71,93.3v9.6M847.87,377.0v-9.6M847.87,93.3v9.6M858.04,377.0v-9.6M858.04,93.3v9.6" stroke="#000" stroke-width="1.65" fill="none"/>
<text transform="translate(652.56,92.10) scale(0.895,1)" font-size="9.7">0</text>
<text transform="translate(640.23,101.10) scale(0.895,1)" font-size="14.4">10</text>
<text transform="translate(652.78,127.56) scale(0.895,1)" font-size="9.7">1</text>
<rect x="650.82" y="124.56" width="1.9" height="1.0"/>
<text transform="translate(638.58,136.56) scale(0.895,1)" font-size="14.4">10</text>
<text transform="translate(652.74,163.03) scale(0.895,1)" font-size="9.7">2</text>
<rect x="650.38" y="160.03" width="1.9" height="1.0"/>
<text transform="translate(638.15,172.03) scale(0.895,1)" font-size="14.4">10</text>
<text transform="translate(652.56,198.49) scale(0.895,1)" font-size="9.7">3</text>
<rect x="650.25" y="195.49" width="1.9" height="1.0"/>
<text transform="translate(638.02,207.49) scale(0.895,1)" font-size="14.4">10</text>
<text transform="translate(652.39,233.95) scale(0.895,1)" font-size="9.7">4</text>
<rect x="649.82" y="230.95" width="1.9" height="1.0"/>
<text transform="translate(637.58,242.95) scale(0.895,1)" font-size="14.4">10</text>
<text transform="translate(652.56,269.41) scale(0.895,1)" font-size="9.7">5</text>
<rect x="650.34" y="266.41" width="1.9" height="1.0"/>
<text transform="translate(638.10,278.41) scale(0.895,1)" font-size="14.4">10</text>
<text transform="translate(652.48,304.88) scale(0.895,1)" font-size="9.7">6</text>
<rect x="650.12" y="301.88" width="1.9" height="1.0"/>
<text transform="translate(637.89,313.88) scale(0.895,1)" font-size="14.4">10</text>
<text transform="translate(652.48,340.34) scale(0.895,1)" font-size="9.7">7</text>
<rect x="650.34" y="337.34" width="1.9" height="1.0"/>
<text transform="translate(638.10,349.34) scale(0.895,1)" font-size="14.4">10</text>
<text transform="translate(652.56,375.80) scale(0.895,1)" font-size="9.7">8</text>
<rect x="650.17" y="372.80" width="1.9" height="1.0"/>
<text transform="translate(637.93,384.80) scale(0.895,1)" font-size="14.4">10</text>
<text transform="translate(664.90,397.5) scale(0.895,1)" text-anchor="middle" font-size="14.4">400</text>
<text transform="translate(715.73,397.5) scale(0.895,1)" text-anchor="middle" font-size="14.4">600</text>
<text transform="translate(766.55,397.5) scale(0.895,1)" text-anchor="middle" font-size="14.4">800</text>
<text transform="translate(817.38,397.5) scale(0.895,1)" text-anchor="middle" font-size="14.4">1000</text>
<text transform="translate(868.20,397.5) scale(0.895,1)" text-anchor="middle" font-size="14.4">1200</text>
<text transform="translate(732.37,421.20) scale(0.88,1)" font-size="19.6">M</text>
<text transform="translate(747.45,428.50) scale(0.88,1)" font-size="14.5">Σ</text>
<text transform="translate(754.50,433.60) scale(0.88,1)" font-size="10">3</text>
<text transform="translate(759.12,421.20) scale(0.865,1)" font-size="19.6">(GeV)</text>
<text transform="translate(627.20,264.6) rotate(-90) scale(1,0.93)" font-size="19.6">Γ(GeV)</text>
<path d="M58.9,18.65H137.6" stroke="#0000ff" stroke-width="2.4"/>
<path d="M58.2,57.4H143.1" stroke="#008b00" stroke-width="4.8"/>
<text transform="translate(145.92,25.70) scale(0.9,1)" font-size="21.5">Σ</text><text transform="translate(157.23,13.10) scale(0.9,1)" font-size="15">0</text><text transform="translate(164.55,34.20) scale(0.9,1)" font-size="15">1</text><text transform="translate(171.69,25.70) scale(0.9,1)" font-size="21.5">–</text><text transform="translate(180.53,25.70) scale(0.9,1)" font-size="21.5">&gt;</text><text transform="translate(195.92,25.70) scale(0.9,1)" font-size="21.5">e</text><rect x="205.80" y="8.50" width="3.1" height="1.3"/><text transform="translate(214.62,25.70) scale(0.9,1)" font-size="21.5">H</text><text transform="translate(227.69,13.70) scale(0.9,1)" font-size="15">+</text>
<text transform="translate(143.92,65.50) scale(0.9,1)" font-size="21.5">Σ</text><text transform="translate(155.43,52.90) scale(0.9,1)" font-size="15">0</text><text transform="translate(162.15,74.00) scale(0.9,1)" font-size="15">1</text><rect x="173.20" y="59.70" width="3.9" height="1.6"/><text transform="translate(176.63,65.50) scale(0.9,1)" font-size="21.5">&gt;</text><text transform="translate(191.28,65.50) scale(1.0,1)" font-size="21.5">μ</text><text transform="translate(202.39,54.30) scale(0.9,1)" font-size="15">−</text><text transform="translate(210.10,65.50) scale(0.9,1)" font-size="21.5">/</text><text transform="translate(214.15,65.50) scale(1.05,1)" font-size="21.5">τ</text><text transform="translate(222.69,54.30) scale(0.9,1)" font-size="15">−</text><text transform="translate(235.02,65.50) scale(0.9,1)" font-size="21.5">H</text><text transform="translate(247.29,53.50) scale(0.9,1)" font-size="15">+</text>
<path d="M362.7,23.3H432" stroke="#0000ff" stroke-width="2.3" stroke-dasharray="13 5.6"/>
<path d="M362.3,58.1H425.6" stroke="#008b00" stroke-width="4.6" stroke-dasharray="26.45 10.4"/>
<text transform="translate(444.92,31.20) scale(0.9,1)" font-size="21.5">Σ</text><text transform="translate(456.83,18.60) scale(0.9,1)" font-size="15">0</text><text transform="translate(462.96,39.70) scale(0.9,1)" font-size="15">2</text><rect x="475.50" y="25.40" width="3.9" height="1.6"/><text transform="translate(479.43,31.20) scale(0.9,1)" font-size="21.5">&gt;</text><text transform="translate(496.42,31.20) scale(0.9,1)" font-size="21.5">e</text><rect x="505.50" y="14.00" width="3.1" height="1.3"/><text transform="translate(514.82,31.20) scale(0.9,1)" font-size="21.5">H</text><text transform="translate(527.59,19.20) scale(0.9,1)" font-size="15">+</text>
<text transform="translate(440.92,65.90) scale(0.9,1)" font-size="21.5">Σ</text><text transform="translate(452.33,53.30) scale(0.9,1)" font-size="15">0</text><text transform="translate(458.86,74.40) scale(0.9,1)" font-size="15">2</text><rect x="471.30" y="60.10" width="3.9" height="1.6"/><text transform="translate(475.13,65.90) scale(0.9,1)" font-size="21.5">&gt;</text><text transform="translate(491.38,65.90) scale(1.0,1)" font-size="21.5">μ</text><text transform="translate(502.79,54.70) scale(0.9,1)" font-size="15">−</text><text transform="translate(510.90,65.90) scale(0.9,1)" font-size="21.5">/</text><text transform="translate(514.95,65.90) scale(1.05,1)" font-size="21.5">τ</text><text transform="translate(523.49,54.70) scale(0.9,1)" font-size="15">−</text><text transform="translate(536.22,65.90) scale(0.9,1)" font-size="21.5">H</text><text transform="translate(549.29,53.90) scale(0.9,1)" font-size="15">+</text>
<path d="M670.7,58.5H734.1" stroke="#008b00" stroke-width="4.7" stroke-dasharray="4.1 10.65 18.8 10.7 4.15 10.8"/>
<text transform="translate(748.02,68.40) scale(0.9,1)" font-size="21.5">Σ</text><text transform="translate(759.53,55.80) scale(0.9,1)" font-size="15">0</text><text transform="translate(766.19,76.90) scale(0.9,1)" font-size="15">3</text><rect x="778.60" y="62.60" width="3.9" height="1.6"/><text transform="translate(782.63,68.40) scale(0.9,1)" font-size="21.5">&gt;</text><text transform="translate(798.38,68.40) scale(1.0,1)" font-size="21.5">μ</text><text transform="translate(809.89,57.20) scale(0.9,1)" font-size="15">−</text><text transform="translate(817.90,68.40) scale(0.9,1)" font-size="21.5">/</text><text transform="translate(821.95,68.40) scale(1.05,1)" font-size="21.5">τ</text><text transform="translate(830.49,57.20) scale(0.9,1)" font-size="15">−</text><text transform="translate(843.62,68.40) scale(0.9,1)" font-size="21.5">H</text><text transform="translate(856.69,56.40) scale(0.9,1)" font-size="15">+</text>
</svg>
</body></html>
